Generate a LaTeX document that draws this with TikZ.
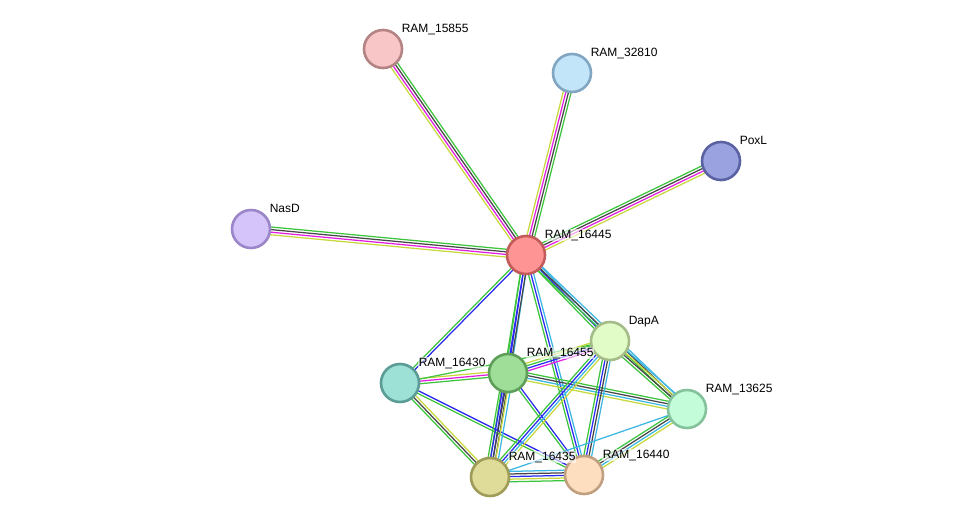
\documentclass[tikz,border=0pt]{standalone}
\usepackage{fontspec}
\setmainfont{Liberation Sans}
\usetikzlibrary{
  calc,
  backgrounds
}
% evidence colours
\definecolor{evgreen}{HTML}{3CC43C}
\definecolor{evblack}{HTML}{464646}
\definecolor{evmagenta}{HTML}{E21EE2}
\definecolor{evyellow}{HTML}{C6D83C}
\definecolor{evblue}{HTML}{2A2AF0}
\definecolor{evcyan}{HTML}{3CB6E2}

% one connector made of parallel coloured lines
\newcommand{\evlinks}[4]{%
  \foreach \ec [count=\ei] in {#4} {
    \pgfmathsetmacro{\eoff}{(\ei-(#3+1)/2)*2.6}
    \draw[evline, \ec] ($(#1)!\eoff pt!90:(#2)$) -- ($(#2)!\eoff pt!-90:(#1)$);
  }%
}

\begin{document}
\begin{tikzpicture}[
      x=1pt, y=-1pt,
      protein/.style={
        circle, minimum size=38pt, inner sep=0pt, line width=2.6pt
      },
      evline/.style={line width=1.25pt},
      lbl/.style={
        anchor=base west, inner sep=0.6pt,
        fill=white, fill opacity=0.6, text opacity=1,
        font=\fontsize{12}{14}\selectfont
      }
    ]
      \useasboundingbox (0,0) rectangle (976,523);

      % Proteins
      \node[protein, fill={rgb,255:red,248;green,198;blue,198}, draw={rgb,255:red,180;green,132;blue,132}] (n15855) at (383,49) {};
      \node[protein, fill={rgb,255:red,194;green,229;blue,250}, draw={rgb,255:red,128;green,166;blue,194}] (n32810) at (572,73) {};
      \node[protein, fill={rgb,255:red,154;green,162;blue,224}, draw={rgb,255:red,90;green,98;blue,162}] (npoxl) at (721,161) {};
      \node[protein, fill={rgb,255:red,212;green,196;blue,250}, draw={rgb,255:red,154;green,134;blue,200}] (nnasd) at (251,229) {};
      \node[protein, fill={rgb,255:red,255;green,148;blue,148}, draw={rgb,255:red,194;green,92;blue,92}] (n16445) at (526,255) {};
      \node[protein, fill={rgb,255:red,226;green,252;blue,200}, draw={rgb,255:red,164;green,188;blue,136}] (ndapa) at (610,341) {};
      \node[protein, fill={rgb,255:red,156;green,224;blue,214}, draw={rgb,255:red,92;green,156;blue,150}] (n16430) at (400,383) {};
      \node[protein, fill={rgb,255:red,158;green,222;blue,152}, draw={rgb,255:red,94;green,158;blue,88}] (n16455) at (508,373) {};
      \node[protein, fill={rgb,255:red,194;green,252;blue,216}, draw={rgb,255:red,132;green,194;blue,156}] (n13625) at (687,409) {};
      \node[protein, fill={rgb,255:red,222;green,220;blue,152}, draw={rgb,255:red,158;green,156;blue,88}] (n16435) at (490,477) {};
      \node[protein, fill={rgb,255:red,253;green,222;blue,191}, draw={rgb,255:red,192;green,160;blue,128}] (n16440) at (584,475) {};

      % Labels
      \node[lbl] (l15855) at ($(n15855)+(18,-17)$) {RAM\_15855};
      \node[lbl] (l32810) at ($(n32810)+(18,-17)$) {RAM\_32810};
      \node[lbl] (lpoxl) at ($(npoxl)+(18,-17)$) {PoxL};
      \node[lbl] (lnasd) at ($(nnasd)+(18,-17)$) {NasD};
      \node[lbl] (l16445) at ($(n16445)+(18,-17)$) {RAM\_16445};
      \node[lbl] (ldapa) at ($(ndapa)+(18,-17)$) {DapA};
      \node[lbl] (l16430) at ($(n16430)+(18,-17)$) {RAM\_16430};
      \node[lbl] (l16455) at ($(n16455)+(18,-17)$) {RAM\_16455};
      \node[lbl] (l13625) at ($(n13625)+(18,-17)$) {RAM\_13625};
      \node[lbl] (l16435) at ($(n16435)+(18,-17)$) {RAM\_16435};
      \node[lbl] (l16440) at ($(n16440)+(18,-17)$) {RAM\_16440};

      % Evidence links
      \begin{scope}[on background layer]
        \evlinks{n15855}{n16445}{4}{evyellow,evmagenta,evblack,evgreen}
        \evlinks{n32810}{n16445}{4}{evyellow,evmagenta,evblack,evgreen}
        \evlinks{n16445}{npoxl}{4}{evyellow,evmagenta,evblack,evgreen}
        \evlinks{nnasd}{n16445}{4}{evyellow,evmagenta,evblack,evgreen}
        \evlinks{n16445}{ndapa}{3}{evgreen,evblue,evcyan}
        \evlinks{n16445}{n13625}{3}{evgreen,evblack,evcyan}
        \evlinks{n16445}{n16430}{2}{evgreen,evblue}
        \evlinks{n16445}{n16455}{3}{evgreen,evblue,evcyan}
        \evlinks{n16445}{n16435}{3}{evgreen,evblue,evblack}
        \evlinks{n16445}{n16440}{3}{evgreen,evblue,evcyan}
        \evlinks{n16430}{n16455}{3}{evgreen,evmagenta,evyellow}
        \evlinks{n16430}{ndapa}{1}{evgreen}
        \evlinks{n16430}{n16435}{3}{evgreen,evblack,evyellow}
        \evlinks{n16430}{n16440}{2}{evgreen,evblue}
        \evlinks{n16455}{ndapa}{4}{evmagenta,evblue,evgreen,evyellow}
        \evlinks{n16455}{n16435}{5}{evgreen,evblue,evblack,evyellow,evcyan}
        \evlinks{n16455}{n16440}{2}{evgreen,evblue}
        \evlinks{n16455}{n13625}{4}{evyellow,evcyan,evblack,evgreen}
        \evlinks{ndapa}{n13625}{4}{evgreen,evblack,evyellow,evcyan}
        \evlinks{ndapa}{n16435}{4}{evgreen,evblue,evcyan,evyellow}
        \evlinks{ndapa}{n16440}{4}{evgreen,evblue,evblack,evcyan}
        \evlinks{n16435}{n16440}{5}{evgreen,evyellow,evblue,evblack,evcyan}
        \evlinks{n16435}{n13625}{1}{evcyan}
        \evlinks{n16440}{n13625}{4}{evyellow,evcyan,evblack,evgreen}
      \end{scope}
    \end{tikzpicture}
\end{document}
